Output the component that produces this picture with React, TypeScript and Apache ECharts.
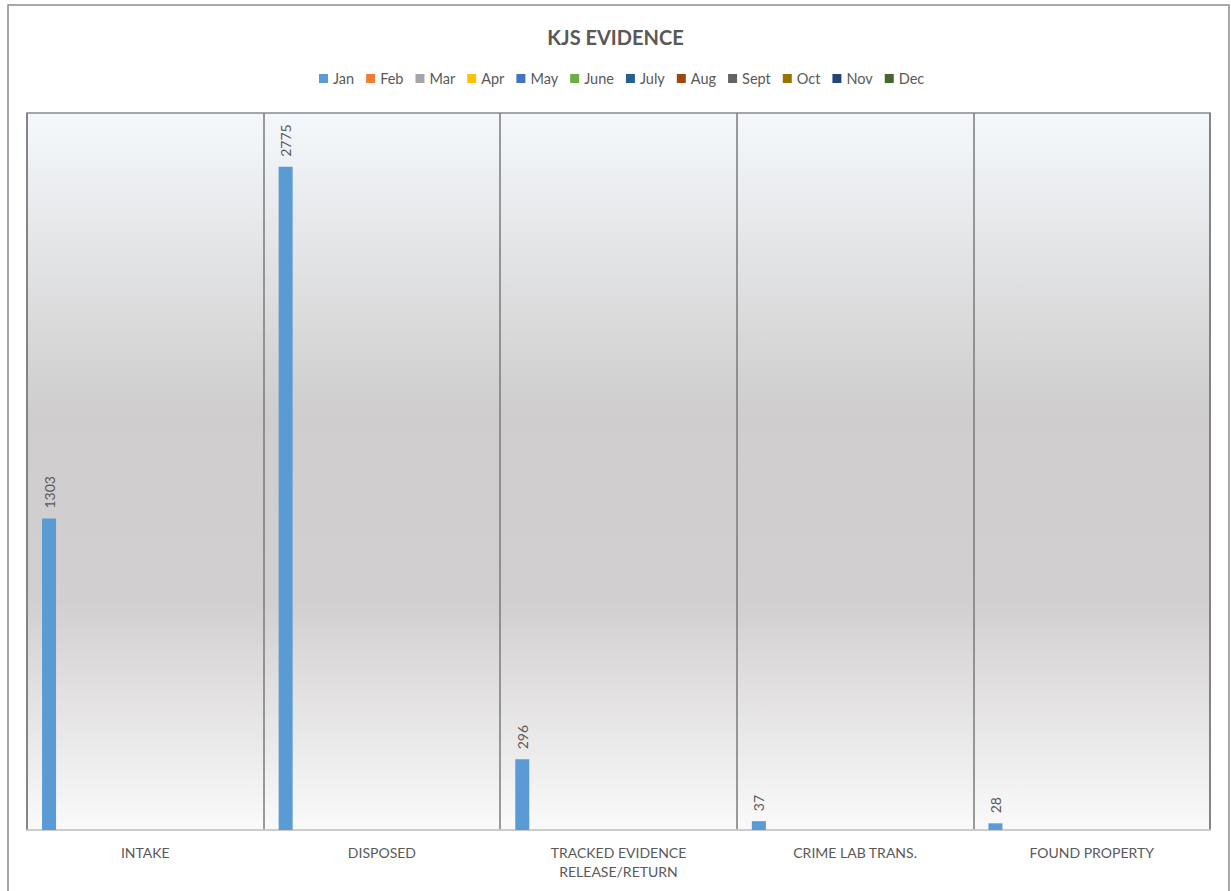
import React, { useEffect, useRef } from "react";
import * as echarts from "echarts";

// Evidence unit activity by category, one series per month
const categories = [
  "INTAKE",
  "DISPOSED",
  "TRACKED EVIDENCE\nRELEASE/RETURN",
  "CRIME LAB TRANS.",
  "FOUND PROPERTY",
];

const months = ["Jan", "Feb", "Mar", "Apr", "May", "June", "July", "Aug", "Sept", "Oct", "Nov", "Dec"];

const monthColors = [
  "#5b9bd5", "#ed7d31", "#a5a5a5", "#ffc000", "#4472c4", "#70ad47",
  "#255e91", "#9e480e", "#636363", "#997300", "#264478", "#43682b",
];

// Only January has been recorded so far
const janValues = [1303, 2775, 296, 37, 28];
const emptyMonth = [null, null, null, null, null];

const monthValues: (number | null)[][] = [
  janValues,
  emptyMonth, emptyMonth, emptyMonth, emptyMonth, emptyMonth, emptyMonth,
  emptyMonth, emptyMonth, emptyMonth, emptyMonth, emptyMonth,
];

const FONT = "Lato";
const TEXT = "#595959";

export default function App() {
  const ref = useRef<HTMLDivElement>(null);

  useEffect(() => {
    if (!ref.current) return;
    const chart = echarts.init(ref.current, null, { renderer: "svg" });

    const series = months.map((m, i) => ({
      name: m,
      type: "bar" as const,
      data: monthValues[i],
      barWidth: 14,
      barGap: "25%",
      itemStyle: { color: monthColors[i] },
      label: {
        show: true,
        position: "top" as const,
        rotate: 90,
        align: "left" as const,
        verticalAlign: "middle" as const,
        distance: 10,
        color: TEXT,
        fontFamily: FONT,
        fontSize: 14,
        formatter: (p: any) => (p.value == null ? "" : String(p.value)),
      },
    }));

    chart.setOption({
      animation: false,
      backgroundColor: "#ffffff",
      title: {
        text: "KJS EVIDENCE",
        left: "center",
        top: 22,
        textStyle: { color: TEXT, fontFamily: FONT, fontSize: 20, fontWeight: "bold" },
      },
      legend: {
        top: 66,
        left: 314,
        icon: "rect",
        itemWidth: 9,
        itemHeight: 9,
        itemGap: 12,
        textStyle: { color: TEXT, fontFamily: FONT, fontSize: 14.5 },
        data: months,
      },
      grid: {
        left: 27,
        right: 21,
        top: 113,
        bottom: 61,
        show: true,
        borderColor: "#8a8a8a",
        borderWidth: 1.5,
        backgroundColor: new echarts.graphic.LinearGradient(0, 0, 0, 1, [
          { offset: 0, color: "#f4f8fc" },
          { offset: 0.42, color: "#cfcdcd" },
          { offset: 0.68, color: "#d2cfd0" },
          { offset: 1, color: "#fafafa" },
        ]),
      },
      xAxis: {
        type: "category",
        data: categories,
        axisLine: { show: true, lineStyle: { color: "#d9d9d9", width: 1.5 } },
        axisTick: { show: false },
        splitLine: { show: true, lineStyle: { color: "#7a7a7a", width: 1.5 } },
        axisLabel: {
          color: TEXT,
          fontFamily: FONT,
          fontSize: 14,
          margin: 13,
          lineHeight: 19,
          interval: 0,
        },
      },
      yAxis: {
        type: "value",
        min: 0,
        max: 3000,
        show: false,
        splitLine: { show: false },
      },
      graphic: [
        {
          type: "rect",
          shape: { x: 8, y: 5, width: 1221, height: 900 },
          style: { fill: "none", stroke: "#8c8c8c", lineWidth: 1.5 },
          silent: true,
          z: 100,
        },
      ],
      series,
    });

    return () => chart.dispose();
  }, []);

  return (
    <div
      ref={ref}
      style={{ position: "absolute", left: 0, top: 0, width: 1231, height: 891 }}
    />
  );
}
